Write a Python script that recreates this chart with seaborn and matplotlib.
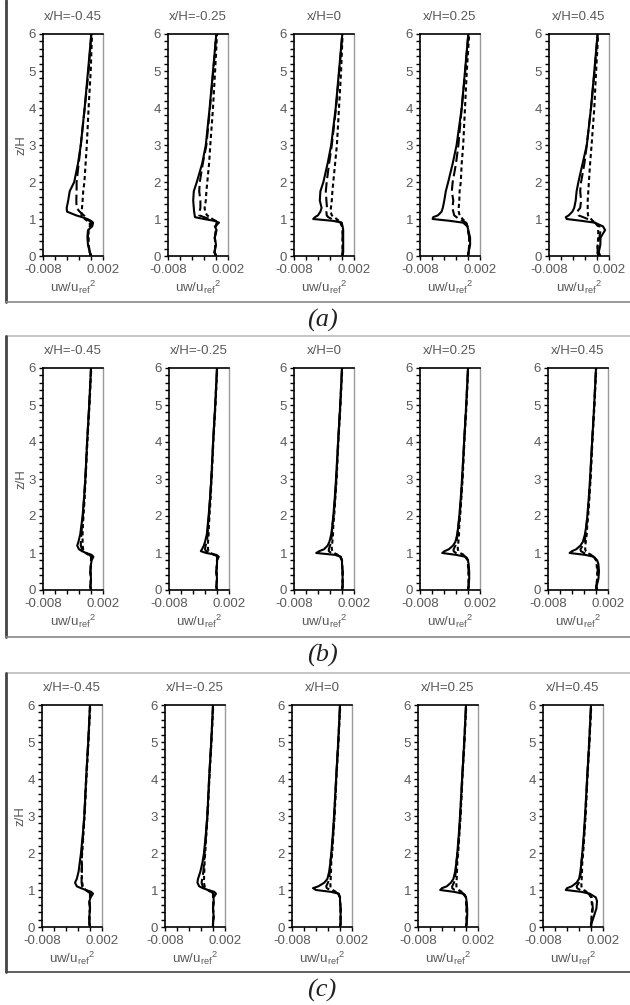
import numpy as np
import pandas as pd
import matplotlib
matplotlib.use("Agg")
import matplotlib.pyplot as plt
from matplotlib.lines import Line2D
import seaborn as sns

sns.set_theme(style="white")
plt.rcParams['font.family'] = ['Liberation Sans', 'DejaVu Sans']
plt.rcParams['mathtext.fontset'] = 'custom'
plt.rcParams['mathtext.rm'] = 'Liberation Sans'
plt.rcParams['mathtext.default'] = 'regular'

# ---------------- data (uw/u_ref^2 in units of 1e-3) ----------------
z = [0, 0.1, 0.3, 0.5, 0.7, 0.8, 0.9, 0.95, 1.0, 1.05, 1.1, 1.2, 1.3, 1.5, 1.75, 2.0, 2.5, 3, 4, 5, 6]
positions = ["x/H=-0.45", "x/H=-0.25", "x/H=0", "x/H=0.25", "x/H=0.45"]
panels = ["(a)", "(b)", "(c)"]
series = ["solid", "longdash", "shortdash"]

# panel (a)
a1_solid = [0.05, -0.2, -0.5, -0.6, -0.5, 0.2, 0.35, 0.0, -0.6, -1.5, -2.5, -4.0, -4.05, -3.8, -3.55, -2.8, -2.17, -1.7, -1.06, -0.5, 0.05]
a1_long = [0.05, -0.2, -0.4, -0.5, -0.5, -0.05, 0.05, -0.3, -0.6, -0.9, -1.2, -1.9, -2.4, -2.45, -2.4, -2.4, -2.05, -1.7, -1.05, -0.4, 0.05]
a1_short = [-0.1, -0.2, -0.4, -0.4, -0.4, -0.2, -0.2, -0.6, -1.05, -1.3, -1.6, -1.55, -1.5, -1.4, -1.3, -1.1, -0.9, -0.7, -0.4, -0.05, 0.17]

a2_solid = [0.0, -0.3, 0.0, -0.2, 0.1, -0.2, 0.5, -0.3, -2.0, -3.5, -3.55, -3.65, -3.7, -3.8, -3.7, -3.2, -2.3, -1.7, -1.06, -0.5, 0.05]
a2_long = [0.0, -0.2, -0.1, -0.2, 0.0, 0.0, 0.2, 0.0, -1.05, -2.0, -2.8, -2.75, -2.6, -2.6, -2.8, -2.7, -2.2, -1.6, -1.0, -0.45, 0.05]
a2_short = [0.0, -0.2, -0.1, -0.2, 0.0, 0.0, 0.1, -0.2, -0.6, -1.0, -1.5, -1.8, -1.9, -1.7, -1.6, -1.45, -1.15, -0.95, -0.5, -0.15, 0.17]

a3_solid = [0.05, 0.2, 0.2, 0.2, 0.2, 0.1, -0.05, -1.5, -4.8, -4.5, -4.0, -3.6, -3.4, -3.7, -3.6, -3.1, -2.4, -1.8, -1.05, -0.5, 0.05]
a3_long = [0.05, 0.1, 0.1, 0.1, 0.1, 0.0, -0.1, -0.8, -1.7, -2.3, -2.55, -2.6, -2.5, -2.6, -2.7, -2.55, -2.15, -1.7, -1.0, -0.45, 0.05]
a3_short = [0.05, 0.1, 0.1, 0.1, 0.1, 0.0, -0.3, -0.5, -0.9, -1.3, -1.7, -1.9, -1.85, -1.7, -1.6, -1.45, -1.15, -0.85, -0.5, -0.15, 0.1]

a4_solid = [0.0, 0.1, 0.35, 0.35, 0.05, -0.1, -0.8, -3.0, -5.9, -5.8, -5.0, -4.4, -4.2, -3.95, -3.7, -3.3, -2.55, -1.9, -1.05, -0.5, 0.05]
a4_long = [0.0, 0.1, 0.2, 0.2, 0.0, -0.1, -0.3, -0.9, -1.6, -1.9, -2.3, -2.45, -2.6, -2.45, -2.7, -2.55, -2.0, -1.6, -1.05, -0.45, 0.05]
a4_short = [0.0, 0.1, 0.2, 0.2, 0.0, -0.1, -0.3, -0.6, -0.9, -1.15, -1.4, -1.55, -1.55, -1.45, -1.4, -1.2, -1.05, -0.8, -0.5, -0.2, 0.2]

a5_solid = [0.55, 0.3, 0.55, 0.6, 1.35, 1.0, -0.35, -2.55, -5.05, -5.2, -4.7, -4.1, -3.8, -3.55, -3.4, -3.1, -2.4, -1.7, -1.0, -0.45, 0.1]
a5_long = [0.2, 0.1, 0.1, 0.4, 0.6, 0.4, -0.35, -0.9, -1.55, -2.3, -3.1, -3.3, -2.8, -2.65, -2.8, -2.65, -2.1, -1.7, -1.0, -0.4, 0.1]
a5_short = [0.2, 0.1, 0.1, 0.2, 0.2, 0.2, -0.35, -0.7, -1.0, -1.3, -1.5, -1.55, -1.55, -1.55, -1.45, -1.35, -1.15, -0.9, -0.45, -0.15, 0.2]

# panel (b)
b1_solid = [0.0, -0.1, 0.0, -0.1, 0.0, 0.1, 0.4, 0.1, -0.8, -1.5, -2.0, -2.3, -2.1, -1.8, -1.6, -1.4, -1.15, -0.95, -0.65, -0.3, 0.0]
b1_long = [0.0, -0.1, 0.0, -0.1, 0.0, 0.0, 0.1, -0.3, -0.8, -1.2, -1.5, -1.7, -1.7, -1.6, -1.5, -1.35, -1.15, -0.95, -0.65, -0.3, 0.0]
b1_short = [0.0, -0.1, 0.0, -0.1, 0.0, 0.0, 0.0, -0.4, -0.9, -1.1, -1.3, -1.4, -1.4, -1.4, -1.35, -1.25, -1.05, -0.9, -0.6, -0.25, 0.05]

b2_solid = [0.0, -0.1, 0.0, -0.1, 0.0, 0.0, 0.3, -0.1, -1.8, -2.7, -2.5, -2.2, -2.0, -1.7, -1.55, -1.4, -1.15, -0.95, -0.65, -0.3, 0.0]
b2_long = [0.0, -0.1, 0.0, -0.1, 0.0, 0.0, 0.1, -0.4, -1.2, -1.8, -2.0, -1.9, -1.7, -1.55, -1.5, -1.35, -1.15, -0.95, -0.65, -0.3, 0.0]
b2_short = [0.0, -0.1, 0.0, -0.1, 0.0, 0.0, 0.0, -0.5, -1.0, -1.4, -1.5, -1.5, -1.5, -1.4, -1.35, -1.25, -1.05, -0.9, -0.6, -0.25, 0.05]

b3_solid = [0.0, 0.1, 0.1, 0.1, 0.0, 0.0, -0.2, -1.2, -4.3, -3.8, -3.0, -2.4, -2.1, -1.8, -1.6, -1.45, -1.2, -1.0, -0.65, -0.3, 0.0]
b3_long = [0.0, 0.1, 0.1, 0.1, 0.0, 0.0, -0.3, -0.8, -1.8, -2.2, -2.2, -2.0, -1.8, -1.7, -1.6, -1.4, -1.15, -0.95, -0.65, -0.3, 0.0]
b3_short = [0.0, 0.1, 0.1, 0.1, 0.0, 0.0, -0.3, -0.7, -1.3, -1.6, -1.7, -1.7, -1.6, -1.5, -1.45, -1.3, -1.1, -0.9, -0.6, -0.25, 0.05]

b4_solid = [0.0, 0.1, 0.2, 0.2, 0.1, 0.0, -0.5, -2.0, -4.3, -3.9, -3.2, -2.5, -2.1, -1.8, -1.6, -1.45, -1.2, -1.0, -0.65, -0.3, 0.0]
b4_long = [0.0, 0.1, 0.1, 0.1, 0.0, 0.0, -0.4, -1.0, -2.0, -2.4, -2.4, -2.1, -1.9, -1.75, -1.6, -1.4, -1.15, -0.95, -0.65, -0.3, 0.0]
b4_short = [0.0, 0.1, 0.1, 0.1, 0.0, 0.0, -0.3, -0.7, -1.3, -1.6, -1.7, -1.7, -1.6, -1.5, -1.45, -1.3, -1.1, -0.9, -0.6, -0.25, 0.05]

b5_solid = [0.2, 0.1, 0.4, 0.5, 0.4, 0.2, -0.4, -1.8, -4.4, -4.0, -3.3, -2.6, -2.2, -1.85, -1.6, -1.45, -1.2, -1.0, -0.65, -0.3, 0.0]
b5_long = [0.1, 0.0, 0.3, 0.3, 0.2, 0.1, -0.4, -1.1, -2.0, -2.5, -2.6, -2.2, -1.9, -1.75, -1.6, -1.4, -1.15, -0.95, -0.65, -0.3, 0.0]
b5_short = [0.1, 0.0, 0.2, 0.2, 0.1, 0.0, -0.3, -0.8, -1.4, -1.7, -1.8, -1.8, -1.7, -1.55, -1.45, -1.3, -1.1, -0.9, -0.6, -0.25, 0.05]

# panel (c)
c1_solid = [0.0, -0.1, -0.1, 0.0, -0.1, 0.1, 0.5, 0.2, -0.7, -1.5, -2.2, -2.5, -2.2, -1.9, -1.7, -1.5, -1.2, -0.95, -0.65, -0.3, 0.0]
c1_long = [0.0, -0.1, -0.1, 0.0, -0.1, 0.0, 0.1, -0.3, -0.7, -1.1, -1.3, -1.4, -1.4, -1.35, -1.35, -1.35, -1.15, -0.95, -0.65, -0.3, 0.0]
c1_short = [0.0, -0.1, -0.1, 0.0, -0.1, 0.0, 0.0, -0.3, -0.7, -1.0, -1.2, -1.3, -1.35, -1.4, -1.4, -1.3, -1.1, -0.9, -0.6, -0.25, 0.05]

c2_solid = [0.0, 0.0, 0.1, 0.0, 0.1, 0.1, 0.5, 0.2, -0.8, -1.7, -2.3, -2.6, -2.5, -2.1, -1.75, -1.5, -1.2, -0.95, -0.65, -0.3, 0.0]
c2_long = [0.0, 0.0, 0.1, 0.0, 0.1, 0.0, 0.1, -0.3, -0.8, -1.3, -1.7, -1.9, -1.8, -1.6, -1.5, -1.4, -1.15, -0.95, -0.65, -0.3, 0.0]
c2_short = [0.0, 0.0, 0.1, 0.0, 0.1, 0.0, 0.0, -0.4, -0.9, -1.2, -1.4, -1.5, -1.5, -1.45, -1.4, -1.3, -1.1, -0.9, -0.6, -0.25, 0.05]

c3_solid = [0.0, 0.1, 0.1, 0.1, 0.0, 0.0, -0.2, -1.5, -4.0, -4.5, -3.6, -2.6, -2.1, -1.8, -1.6, -1.45, -1.2, -1.0, -0.65, -0.3, 0.0]
c3_long = [0.0, 0.1, 0.1, 0.1, 0.0, 0.0, -0.3, -0.8, -1.6, -2.2, -2.3, -2.0, -1.8, -1.7, -1.6, -1.4, -1.15, -0.95, -0.65, -0.3, 0.0]
c3_short = [0.0, 0.1, 0.1, 0.1, 0.0, 0.0, -0.3, -0.7, -1.2, -1.5, -1.6, -1.6, -1.55, -1.5, -1.45, -1.3, -1.1, -0.9, -0.6, -0.25, 0.05]

c4_solid = [0.0, 0.1, 0.2, 0.2, 0.1, 0.0, -0.5, -2.0, -4.3, -4.0, -3.2, -2.5, -2.1, -1.8, -1.6, -1.45, -1.2, -1.0, -0.65, -0.3, 0.0]
c4_long = [0.0, 0.1, 0.1, 0.1, 0.0, 0.0, -0.4, -1.0, -1.9, -2.3, -2.3, -2.0, -1.85, -1.7, -1.6, -1.4, -1.15, -0.95, -0.65, -0.3, 0.0]
c4_short = [0.0, 0.1, 0.1, 0.1, 0.0, 0.0, -0.3, -0.7, -1.2, -1.5, -1.6, -1.6, -1.55, -1.5, -1.45, -1.3, -1.1, -0.9, -0.6, -0.25, 0.05]

c5_solid = [0.0, 0.1, 0.5, 0.9, 1.0, 0.8, -0.2, -1.6, -4.2, -4.0, -3.2, -2.4, -2.0, -1.75, -1.6, -1.45, -1.2, -1.0, -0.65, -0.3, 0.0]
c5_long = [0.0, 0.0, 0.2, 0.3, 0.2, 0.1, -0.4, -1.0, -1.8, -2.3, -2.4, -2.0, -1.8, -1.7, -1.6, -1.4, -1.15, -0.95, -0.65, -0.3, 0.0]
c5_short = [0.0, 0.0, 0.1, 0.2, 0.1, 0.0, -0.3, -0.7, -1.2, -1.5, -1.6, -1.6, -1.55, -1.5, -1.45, -1.3, -1.1, -0.9, -0.6, -0.25, 0.05]

profiles = {
    "(a)": [(a1_solid, a1_long, a1_short), (a2_solid, a2_long, a2_short), (a3_solid, a3_long, a3_short),
            (a4_solid, a4_long, a4_short), (a5_solid, a5_long, a5_short)],
    "(b)": [(b1_solid, b1_long, b1_short), (b2_solid, b2_long, b2_short), (b3_solid, b3_long, b3_short),
            (b4_solid, b4_long, b4_short), (b5_solid, b5_long, b5_short)],
    "(c)": [(c1_solid, c1_long, c1_short), (c2_solid, c2_long, c2_short), (c3_solid, c3_long, c3_short),
            (c4_solid, c4_long, c4_short), (c5_solid, c5_long, c5_short)],
}

xticks = [-0.008, -0.006, -0.004, -0.002, 0.0, 0.002]
xticklabels = ["-0.008", "", "", "", "", "0.002"]
yticks = [0, 1, 2, 3, 4, 5, 6]

rows = []
for p in panels:
    for i, pos in enumerate(positions):
        for s, vals in zip(series, profiles[p][i]):
            for zz, v in zip(z, vals):
                rows.append((p, pos, s, zz, v * 1e-3))
df = pd.DataFrame(rows, columns=["panel", "pos", "series", "z", "uw"])

# ---------------- layout (pixels) ----------------
W, H = 630, 1005
fig = plt.figure(figsize=(W / 100, H / 100), dpi=100)
fig.patch.set_facecolor("white")

lefts = {"(a)": [43, 168, 294, 420, 549],
         "(b)": [43, 169, 294, 420, 548],
         "(c)": [42, 165, 292, 418, 543]}
tops = {"(a)": 34, "(b)": 368, "(c)": 705}
ax_w, ax_h = 60, 222
gray = "#595959"

dash_map = {"solid": "", "longdash": (5, 2), "shortdash": (2, 1.5)}

def px_ax(l, t, w, h):
    return [l / W, 1 - (t + h) / H, w / W, h / H]

for p in panels:
    for i, pos in enumerate(positions):
        ax = fig.add_axes(px_ax(lefts[p][i], tops[p], ax_w, ax_h))
        sub = df[(df.panel == p) & (df.pos == pos)]
        sns.lineplot(data=sub, x="uw", y="z", style="series", style_order=series,
                     dashes=dash_map, color="black", linewidth=1.5, orient="y",
                     sort=False, estimator=None, legend=False, ax=ax)
        ax.set_xlim(-0.008, 0.002)
        ax.set_ylim(0, 6)
        ax.set_xticks(xticks)
        ax.set_xticklabels(xticklabels)
        ax.set_yticks(yticks)
        ax.set_yticks(np.arange(0, 6.01, 0.2), minor=True)
        ax.tick_params(axis="both", which="both", direction="out", length=3, width=1,
                       color="black", labelsize=9.5, labelcolor=gray, pad=2,
                       left=True, bottom=True)
        ax.tick_params(axis="x", pad=3)
        for side in ["left", "bottom", "top"]:
            ax.spines[side].set_color("black")
            ax.spines[side].set_linewidth(1.2)
        ax.spines["right"].set_color("#9a9a9a")
        ax.spines["right"].set_linewidth(1.0)
        ax.set_title(pos, fontsize=9.5, color=gray, pad=10)
        ax.set_xlabel(r"uw/u$_{ref}$$^{2}$", fontsize=9.5, color=gray, labelpad=2)
        if i == 0:
            ax.set_ylabel("z/H", fontsize=9.5, color=gray, labelpad=1)
        else:
            ax.set_ylabel("")
        ax.grid(False)

# panel frames and captions
frame_col = "#444444"
def hline(y, x0=6, x1=630, c="#888888", lw=1.2):
    fig.add_artist(Line2D([x0 / W, x1 / W], [1 - y / H, 1 - y / H], color=c, lw=lw,
                          transform=fig.transFigure))
def vline(x, y0, y1, c=frame_col, lw=2.0):
    fig.add_artist(Line2D([x / W, x / W], [1 - y0 / H, 1 - y1 / H], color=c, lw=lw,
                          transform=fig.transFigure))

vline(6, 0, 302)
hline(302)
hline(336, c="#bbbbbb")
vline(6, 336, 637)
hline(637)
hline(673, c="#bbbbbb")
vline(6, 673, 972)
hline(972, c=frame_col)

for p, y in zip(panels, [320, 655, 990]):
    fig.text(322 / W, 1 - y / H, p, ha="center", va="center", fontsize=19,
             family="Liberation Serif", style="italic", color="#222222")

fig.savefig("out.png", dpi=100, facecolor="white")
